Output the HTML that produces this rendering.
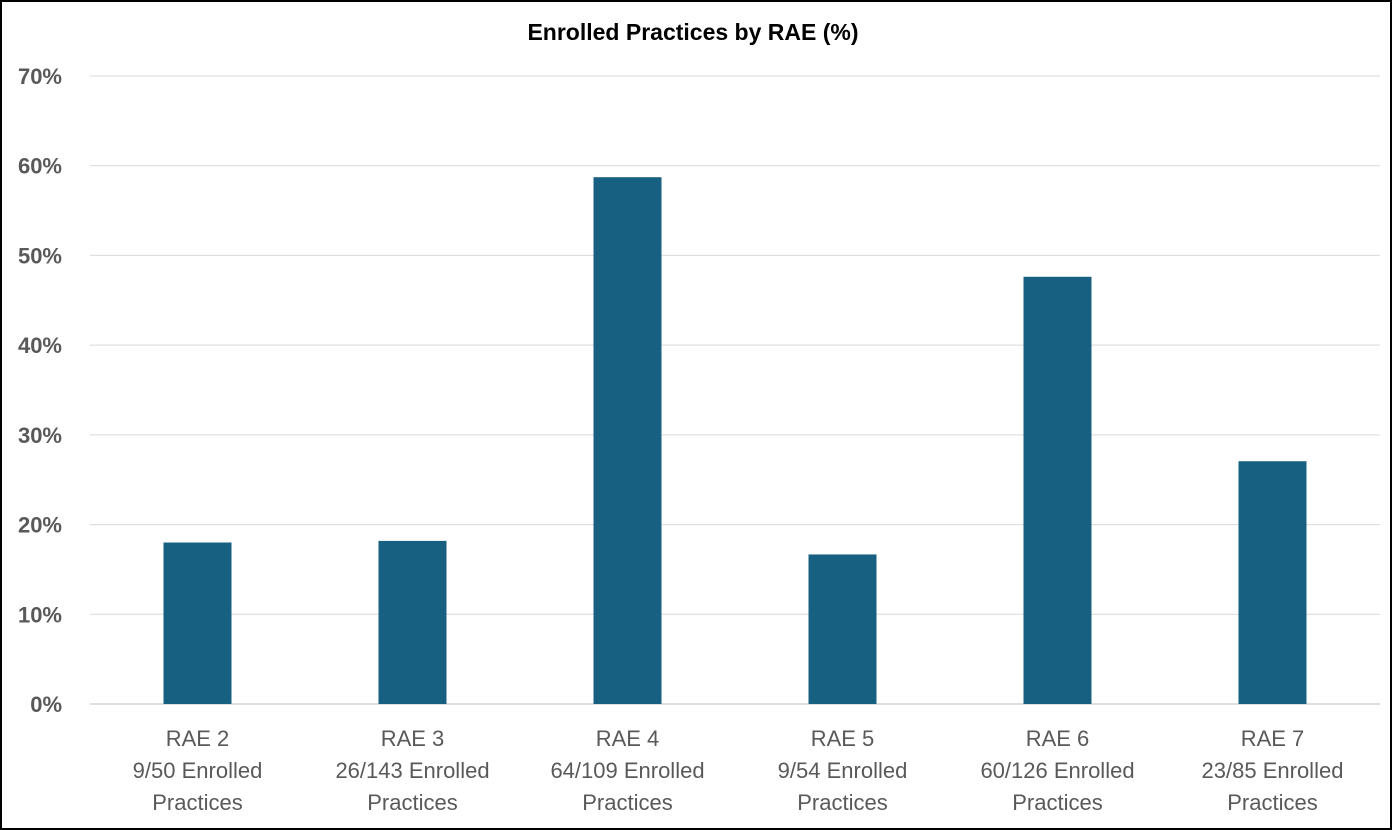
<!DOCTYPE html>
<html><head><meta charset="utf-8"><style>
html,body{margin:0;padding:0;background:#fff;}
svg{display:block;font-family:"Liberation Sans",Arial,sans-serif;}
</style></head><body>
<svg id="chart" width="1392" height="830" viewBox="0 0 1392 830">
<rect x="1" y="1" width="1390" height="828" fill="#fff" stroke="#000" stroke-width="2"/>
<text x="693" y="40" text-anchor="middle" font-size="23" font-weight="bold" fill="#000">Enrolled Practices by RAE (%)</text>
<g id="grid"></g><g id="bars"></g><g id="ylabels"></g><g id="xlabels"></g>
</svg>
<script>
const categories = ["RAE 2","RAE 3","RAE 4","RAE 5","RAE 6","RAE 7"];
const enrolledLabels = ["9/50 Enrolled","26/143 Enrolled","64/109 Enrolled","9/54 Enrolled","60/126 Enrolled","23/85 Enrolled"];
const values = [18.0, 18.18, 58.72, 16.67, 47.62, 27.06];
const yTicks = [0,10,20,30,40,50,60,70];
const yTickLabels = ["0%","10%","20%","30%","40%","50%","60%","70%"];

const NS="http://www.w3.org/2000/svg";
const plotL=90, plotR=1380, y0=704, y70=76;
const yScale=v=>y0-(v/70)*(y0-y70);
const bandW=(plotR-plotL)/categories.length;
const xCenter=i=>plotL+bandW*(i+0.5);
const barW=68;
function mk(tag,attrs,parent){const e=document.createElementNS(NS,tag);for(const k in attrs)e.setAttribute(k,attrs[k]);parent.appendChild(e);return e;}
const grid=document.getElementById('grid'),bars=document.getElementById('bars'),yl=document.getElementById('ylabels'),xl=document.getElementById('xlabels');
yTicks.forEach((t,i)=>{
  const y=yScale(t);
  const l=mk('line',{x1:plotL,x2:plotR,y1:y,y2:y,stroke:i===0?'#bfbfbf':'#d9d9d9','stroke-width':1},grid);
  
  
  const tx=mk('text',{x:62,y:y+8,'text-anchor':'end','font-size':22,'font-weight':'bold',fill:'#595959'},yl);
  tx.textContent=yTickLabels[i];
  
  
});
values.forEach((v,i)=>{
  const y=yScale(v);
  const r=mk('rect',{x:xCenter(i)-barW/2,y:y,width:barW,height:y0-y,fill:'#176081'},bars);
  
  
  const lines=[categories[i],enrolledLabels[i],"Practices"];
  lines.forEach((s,j)=>{
    const t=mk('text',{x:xCenter(i),y:746+j*32,'text-anchor':'middle','font-size':22,fill:'#595959'},xl);
    t.textContent=s;
    
    
  });
});
</script>
</body></html>
